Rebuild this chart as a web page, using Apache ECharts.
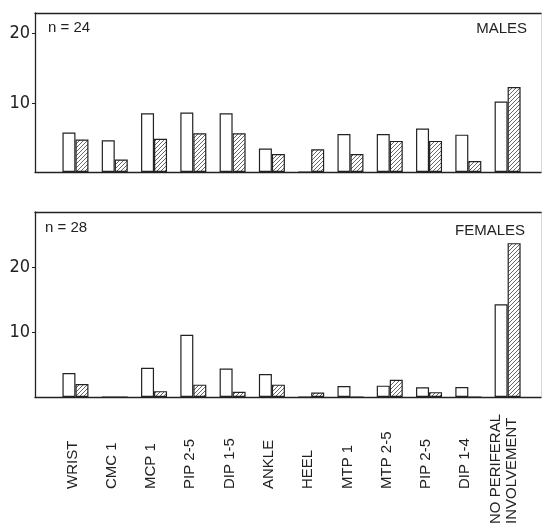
<!DOCTYPE html>
<html>
<head>
<meta charset="utf-8">
<script src="https://cdn.jsdelivr.net/npm/echarts@6/dist/echarts.min.js"></script>
<style>
  html, body { margin: 0; padding: 0; background: #fff; }
  #chart { width: 544px; height: 528px; }
</style>
</head>
<body>
<div id="chart"></div>
<script>
// Joint sites along the horizontal axis
const joints = ['WRIST', 'CMC 1', 'MCP 1', 'PIP 2-5', 'DIP 1-5', 'ANKLE', 'HEEL',
  'MTP 1', 'MTP 2-5', 'PIP 2-5', 'DIP 1-4', 'NO PERIFERAL\nINVOLVEMENT'];

// Males (n = 24): open bars and hatched bars
const malesOpen    = [5.7, 4.6, 8.5, 8.6, 8.5, 3.4, 0,   5.5, 5.5, 6.3, 5.4, 10.2];
const malesHatched = [4.7, 1.8, 4.8, 5.6, 5.6, 2.6, 3.3, 2.6, 4.5, 4.5, 1.6, 12.3];

// Females (n = 28): open bars and hatched bars
const femalesOpen    = [3.7, 0, 4.5, 9.6, 4.4, 3.55, 0,   1.7, 1.75, 1.5, 1.55, 14.3];
const femalesHatched = [2.0, 0, 0.9, 1.9, 0.8, 1.9,  0.7, 0,   2.65, 0.75, 0,   23.7];

// Labelled y ticks
const yTicks = [10, 20];

const INK = '#222';
const FONT = "'Liberation Sans Narrow', 'DejaVu Sans Condensed', 'Liberation Sans', sans-serif";
const FONT_R = "'Liberation Sans', Arial, sans-serif";

// Diagonal hatch fill
function hatch() {
  const s = 4;
  const c = document.createElement('canvas');
  c.width = s; c.height = s;
  const g = c.getContext('2d');
  g.fillStyle = '#fff';
  g.fillRect(0, 0, s, s);
  g.strokeStyle = '#555';
  g.lineWidth = 0.9;
  g.beginPath();
  g.moveTo(-1, s + 1); g.lineTo(s + 1, -1);
  g.moveTo(-1, 1); g.lineTo(1, -1);
  g.moveTo(s - 1, s + 1); g.lineTo(s + 1, s - 1);
  g.stroke();
  return c;
}
const hatchFill = { image: hatch(), repeat: 'repeat' };

const toPairs = arr => arr.map((v, i) => [i, v]);
const idx = joints.map((_, i) => i);

function xAxes(gridIndex, withLabels) {
  return [
    {
      type: 'value', gridIndex, min: -1.03, max: 11.85,
      axisLine: { show: true, onZero: false, lineStyle: { color: INK, width: 1.3 } },
      axisTick: { show: false },
      splitLine: { show: false },
      axisLabel: withLabels ? {
        show: true,
        customValues: idx,
        rotate: 90,
        align: 'left',
        verticalAlign: 'middle',
        margin: 127,
        color: INK,
        fontFamily: FONT_R,
        fontSize: 15,
        lineHeight: 16,
        formatter: v => {
          const name = joints[Math.round(v)];
          return name.indexOf('\n') >= 0 ? '{w|' + name.replace('\n', '}\n{w|') + '}' : '{n|' + name + '}';
        },
        rich: {
          n: { fontFamily: FONT_R, fontSize: 15, color: INK, padding: [0, 0, 6, 35] },
          w: { fontFamily: FONT_R, fontSize: 15, lineHeight: 16, color: INK, padding: [0, 0, 7, 0] }
        }
      } : { show: false }
    },
    {
      type: 'value', gridIndex, position: 'top', min: -1.03, max: 11.85,
      axisLine: { show: true, onZero: false, lineStyle: { color: INK, width: 1.3 } },
      axisTick: { show: false }, axisLabel: { show: false }, splitLine: { show: false }
    }
  ];
}

function yAxes(gridIndex, max) {
  return [
    {
      type: 'value', gridIndex, min: 0, max,
      axisLine: { show: true, onZero: false, lineStyle: { color: INK, width: 1.3 } },
      axisTick: { show: true, customValues: yTicks, length: 3, lineStyle: { color: INK } },
      axisLabel: { show: true, customValues: yTicks, margin: 5, color: INK, fontFamily: FONT, fontSize: 18 },
      splitLine: { show: false }
    },
    {
      type: 'value', gridIndex, position: 'right', min: 0, max,
      axisLine: { show: true, onZero: false, lineStyle: { color: '#d8d8d8', width: 1 } },
      axisTick: { show: false }, axisLabel: { show: false }, splitLine: { show: false }
    }
  ];
}

function bars(xi, yi, data, fill) {
  return {
    type: 'bar', xAxisIndex: xi, yAxisIndex: yi,
    data: toPairs(data),
    barWidth: 13, barGap: '0%',
    itemStyle: { color: fill, borderColor: INK, borderWidth: 1.2 },
    silent: true
  };
}

const chart = echarts.init(document.getElementById('chart'), null, { renderer: 'canvas' });
chart.setOption({
  animation: false,
  backgroundColor: '#fff',
  title: [
    { text: 'n = 24', left: 48, top: 20, padding: 0, textStyle: { fontFamily: FONT_R, fontSize: 15, fontWeight: 'normal', color: INK } },
    { text: 'MALES', right: 17, top: 21, padding: 0, textStyle: { fontFamily: FONT_R, fontSize: 15, fontWeight: 'normal', color: INK } },
    { text: 'n = 28', left: 45, top: 220, padding: 0, textStyle: { fontFamily: FONT_R, fontSize: 15, fontWeight: 'normal', color: INK } },
    { text: 'FEMALES', right: 19, top: 223, padding: 0, textStyle: { fontFamily: FONT_R, fontSize: 15, fontWeight: 'normal', color: INK } }
  ],
  grid: [
    { left: 35, right: 3, top: 13, height: 159 },
    { left: 35, right: 3, top: 212, height: 185 }
  ],
  xAxis: [...xAxes(0, false), ...xAxes(1, true)],
  yAxis: [...yAxes(0, 23), ...yAxes(1, 28.5)],
  series: [
    bars(0, 0, malesOpen, '#fff'),
    bars(0, 0, malesHatched, hatchFill),
    bars(2, 2, femalesOpen, '#fff'),
    bars(2, 2, femalesHatched, hatchFill)
  ]
});
</script>
</body>
</html>
